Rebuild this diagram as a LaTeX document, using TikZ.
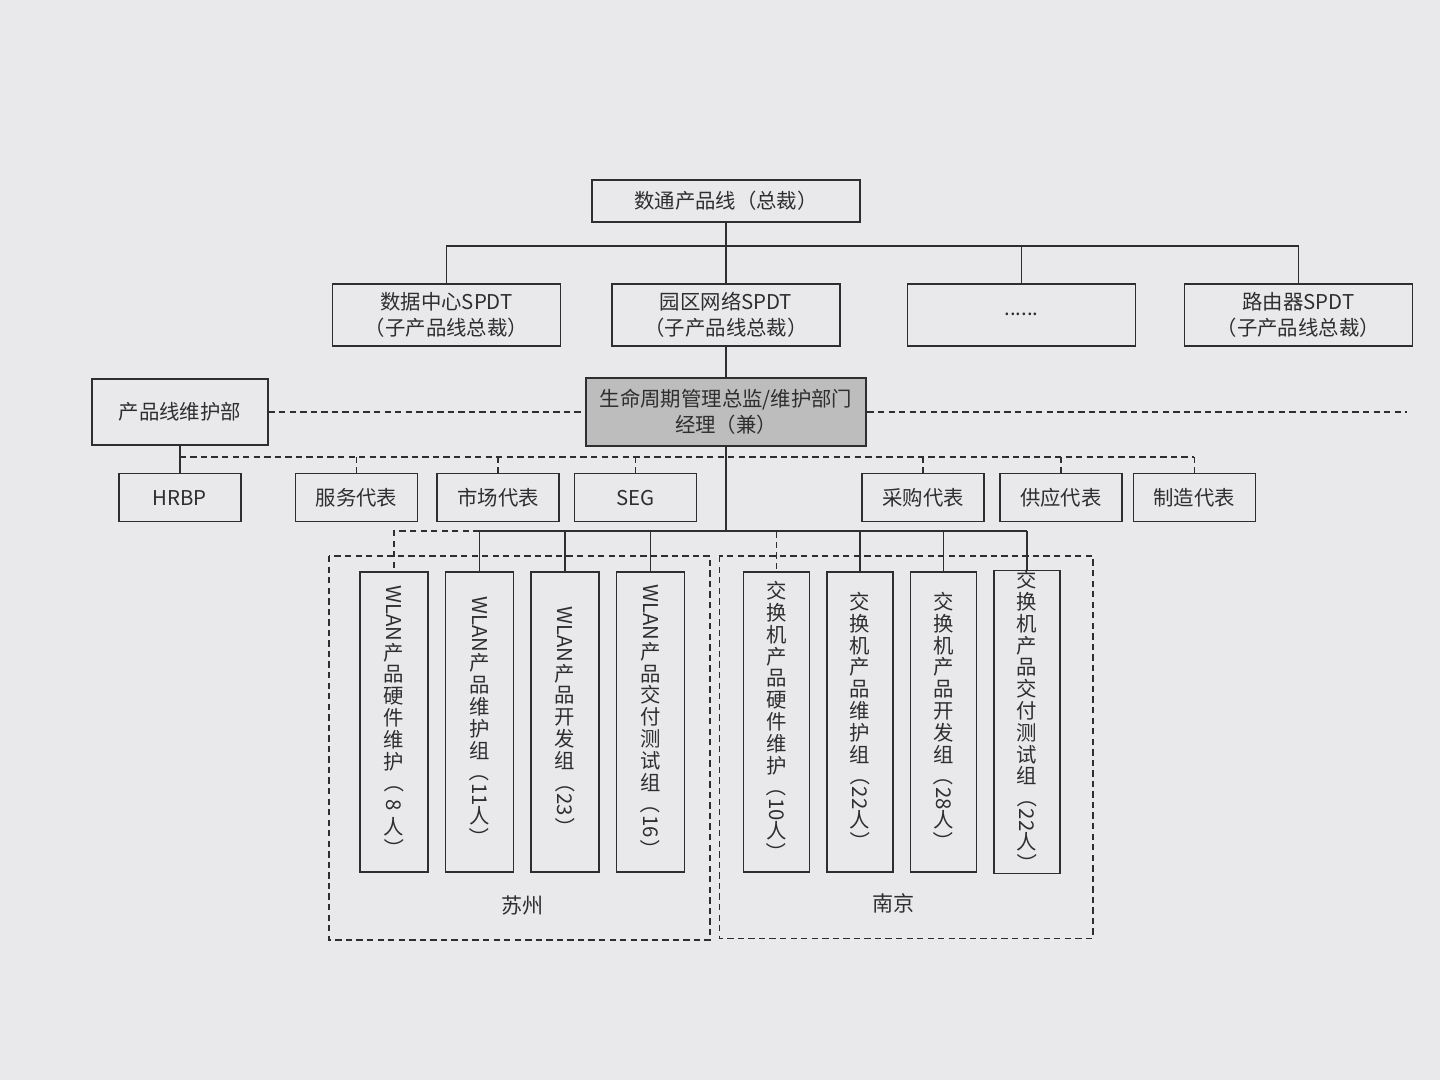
\documentclass[tikz,border=0pt]{standalone}
\usepackage{fontspec}
\setmainfont{Noto Sans CJK SC}
\usepackage{graphicx}
\usepackage{xcolor}
\usepackage{tikz}
\usetikzlibrary{positioning, calc}

\definecolor{ink}{HTML}{2E2E2E}
\definecolor{paper}{HTML}{E9E9EC}
\definecolor{shade}{HTML}{BDBDBD}
\newcommand{\rt}[1]{\rotatebox[origin=c]{-90}{#1}}

\begin{document}
\begin{tikzpicture}[
    box/.style={draw=ink, line width=1.1pt, text=ink, inner sep=0pt,
                minimum width=5.7cm, minimum height=1.55cm, align=center,
                font=\fontsize{14.5}{18.5}\selectfont},
    rep/.style={box, minimum width=3.05cm, minimum height=1.2cm},
    vbox/.style={box, minimum width=1.7cm, minimum height=7.5cm,
                 font=\fontsize{14.5}{15.5}\selectfont},
    lbl/.style={text=ink, font=\fontsize{15}{18}\selectfont},
    link/.style={draw=ink, line width=1.1pt},
    dline/.style={draw=ink, line width=1.1pt, dash pattern=on 4.5pt off 3pt}
  ]
  \fill[paper] (0,0) rectangle (36,-27);
  \useasboundingbox (0,0) rectangle (36,-27);

  % product lines
  \node[box, minimum width=6.7cm, minimum height=1.05cm] (top) at (18.15,-5.03) {数通产品线（总裁）};
  \node[box, below=1.5cm of top] (yq) {园区网络SPDT\\（子产品线总裁）};
  \node[box, left=1.25cm of yq] (sjzx) {数据中心SPDT\\（子产品线总裁）};
  \node[box, right=1.65cm of yq] (more) {......};
  \node[box, right=1.18cm of more] (lyq) {路由器SPDT\\（子产品线总裁）};

  % maintenance management
  \node[box, minimum width=7cm, minimum height=1.7cm, fill=shade, line width=2pt,
        below=0.75cm of yq] (smzq) {生命周期管理总监/维护部门\\经理（兼）};
  \node[box, minimum width=4.4cm, minimum height=1.65cm, left=7.9cm of smzq] (whb) {产品线维护部};

  % representatives
  \node[rep, below=0.68cm of whb] (hrbp) {HRBP};
  \node[rep, right=1.33cm of hrbp] (fuwu) {服务代表};
  \node[rep, right=0.45cm of fuwu] (shichang) {市场代表};
  \node[rep, right=0.35cm of shichang] (seg) {SEG};
  \node[rep, right=4.1cm of seg] (caigou) {采购代表};
  \node[rep, right=0.35cm of caigou] (gongying) {供应代表};
  \node[rep, right=0.25cm of gongying] (zhizao) {制造代表};

  % teams
  \node[vbox] (wlan1) at (9.85,-18.05) {\rt{WLAN}\\产\\品\\硬\\件\\维\\护\\\rt{（}\\\rt{8}\\人\\\rt{）}};
  \node[vbox, right=0.4cm of wlan1] (wlan2) {\rt{WLAN}\\产\\品\\维\\护\\组\\\rt{（}\\\rt{11}\\人\\\rt{）}};
  \node[vbox, right=0.4cm of wlan2] (wlan3) {\rt{WLAN}\\产\\品\\开\\发\\组\\\rt{（}\\\rt{23}\\\rt{）}};
  \node[vbox, right=0.4cm of wlan3] (wlan4) {\rt{WLAN}\\产\\品\\交\\付\\测\\试\\组\\\rt{（}\\\rt{16}\\\rt{）}};
  \node[vbox, minimum width=1.65cm, right=1.43cm of wlan4] (sw1) {交\\换\\机\\产\\品\\硬\\件\\维\\护\\\rt{（}\\\rt{10}\\人\\\rt{）}};
  \node[vbox, minimum width=1.65cm, right=0.4cm of sw1] (sw2) {交\\换\\机\\产\\品\\维\\护\\组\\\rt{（}\\\rt{22}\\人\\\rt{）}};
  \node[vbox, minimum width=1.65cm, right=0.4cm of sw2] (sw3) {交\\换\\机\\产\\品\\开\\发\\组\\\rt{（}\\\rt{28}\\人\\\rt{）}};
  \node[vbox, minimum width=1.65cm, right=0.4cm of sw3] (sw4) {交\\换\\机\\产\\品\\交\\付\\测\\试\\组\\\rt{（}\\\rt{22}\\人\\\rt{）}};

  % sites
  \draw[dline] ($(wlan1.north west)+(-0.75,0.38)$) rectangle ($(wlan4.south east)+(0.62,-1.68)$);
  \draw[dline] ($(sw1.north west)+(-0.58,0.38)$) rectangle ($(sw4.south east)+(0.8,-1.6)$);
  \coordinate (szc) at ($(wlan2.south)!.5!(wlan3.south)$);
  \coordinate (njc) at ($(sw2.south)!.4!(sw3.south)$);
  \node[lbl, below=0.45cm of szc] (suzhou) {苏州};
  \node[lbl, below=0.4cm of njc] (nanjing) {南京};

  % buses
  \coordinate (tb) at ($(top.south)+(0,-0.58)$);
  \coordinate (rb) at ($(hrbp.north)+(0,0.4)$);
  \coordinate (mb) at ($(wlan1.north)+(0,1)$);
  \coordinate (rend) at ($(smzq.east)+(13.5,0)$);

  \draw[link] (top) -- (yq);
  \draw[link] (sjzx.north) |- (tb) -| (lyq.north);
  \draw[link] (more.north) -- (more.north |- tb);
  \draw[link] (yq) -- (smzq);
  \draw[dline] (whb) -- (smzq);
  \draw[dline] (smzq) -- (rend);

  \draw[link] (whb) -- (hrbp);
  \draw[dline] (rb) -- (zhizao.north |- rb);
  \foreach \n in {fuwu, shichang, seg, caigou, gongying, zhizao}
    \draw[dline] (\n.north |- rb) -- (\n.north);

  \draw[link] (smzq) -- (smzq.south |- mb);
  \draw[link] (wlan2.north |- mb) -- (sw4.north |- mb);
  \foreach \n in {wlan2, wlan3, wlan4, sw2, sw3, sw4}
    \draw[link] (\n.north |- mb) -- (\n.north);
  \draw[dline] (wlan2.north |- mb) -- (wlan1.north |- mb) -- (wlan1.north);
  \draw[dline] (sw1.north |- mb) -- (sw1.north);
\end{tikzpicture}
\end{document}
